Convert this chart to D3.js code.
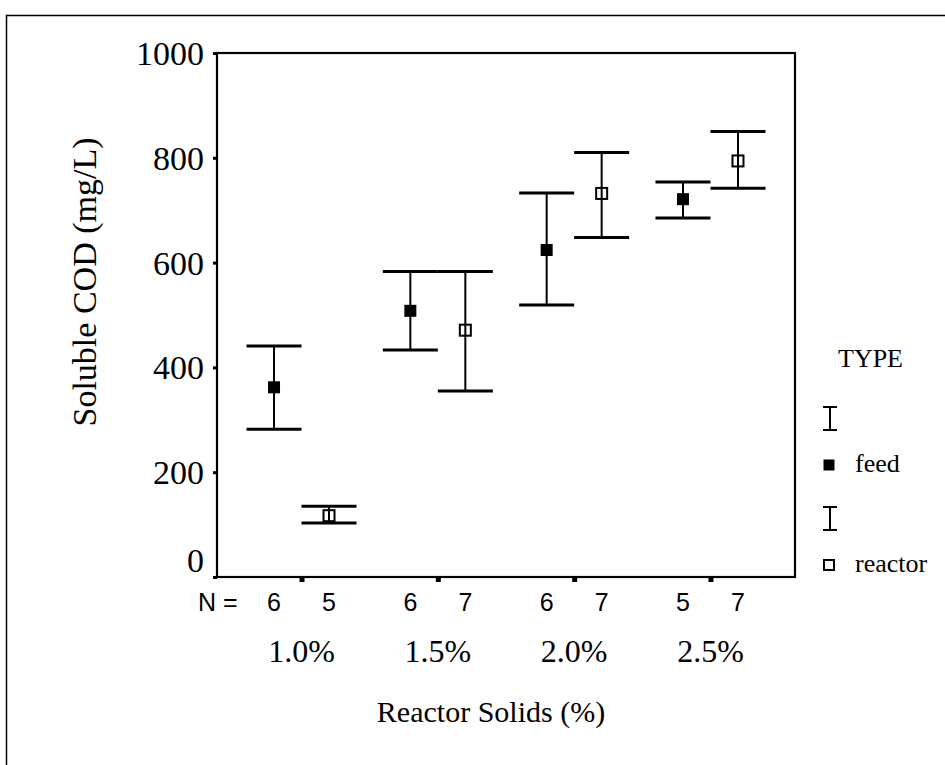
<!DOCTYPE html>
<html>
<head>
<meta charset="utf-8">
<script src="https://cdn.jsdelivr.net/npm/d3@7"></script>
<style>
  html, body { margin: 0; padding: 0; background: #fff; }
  svg { display: block; }
  .serif { font-family: "Liberation Serif", "Times New Roman", serif; fill: #000; }
  .sans { font-family: "Liberation Sans", Arial, sans-serif; fill: #000; }
</style>
</head>
<body>
<svg id="chart" width="945" height="765"></svg>
<script>
// ---- data ----
const categories = ["1.0%", "1.5%", "2.0%", "2.5%"];
const types = ["feed", "reactor"];
const feedMean = [362, 508, 624, 721];
const feedLow = [282, 433, 519, 685];
const feedHigh = [441, 583, 733, 754];
const reactorMean = [117, 471, 732, 794];
const reactorLow = [103, 355, 648, 742];
const reactorHigh = [135, 583, 810, 850];
const feedN = [6, 6, 6, 5];
const reactorN = [5, 7, 7, 7];
const yTicks = [0, 200, 400, 600, 800, 1000];

// ---- layout ----
const svg = d3.select("#chart");
const plot = { left: 217, right: 795, top: 53, bottom: 577 };

svg.append("rect").attr("width", 945).attr("height", 765).attr("fill", "#fff");
// outer frame (left + top visible)
svg.append("path").attr("d", "M6.5,770 L6.5,15.5 L950,15.5")
  .attr("fill", "none").attr("stroke", "#000").attr("stroke-width", 1.5);

const x = d3.scalePoint().domain(categories).range([plot.left, plot.right]).padding(0.62);
const xSub = d3.scalePoint().domain(types).range([-27.5, 27.5]);
const y = d3.scaleLinear().domain([0, 1000]).range([plot.bottom, plot.top]);

// plot frame
svg.append("rect")
  .attr("x", plot.left).attr("y", plot.top)
  .attr("width", plot.right - plot.left).attr("height", plot.bottom - plot.top)
  .attr("fill", "none").attr("stroke", "#000").attr("stroke-width", 2.2);

// y axis
const yAxis = d3.axisLeft(y).tickValues(yTicks).tickSize(4).tickPadding(9).tickFormat(d3.format("d"));
const gy = svg.append("g").attr("transform", `translate(${plot.left},0)`).call(yAxis);
gy.select(".domain").remove();
gy.selectAll(".tick line").attr("stroke", "#000").attr("stroke-width", 3);
gy.selectAll(".tick text")
  .attr("class", "serif")
  .style("font-size", "34px")
  .attr("dy", "0.34em")
  .attr("transform", d => d === 0 ? "translate(0,-17)" : null);

// x axis ticks (category marks below axis)
const xAxis = d3.axisBottom(x).tickSize(5).tickFormat("");
const gx = svg.append("g").attr("transform", `translate(0,${plot.bottom})`).call(xAxis);
gx.select(".domain").remove();
gx.selectAll(".tick line").attr("stroke", "#000").attr("stroke-width", 5);

// N labels
svg.append("text").attr("class", "sans").attr("x", 198).attr("y", 611)
  .style("font-size", "25px").text("N =");
const nRows = [];
categories.forEach((c, i) => {
  nRows.push({ c, t: "feed", n: feedN[i] });
  nRows.push({ c, t: "reactor", n: reactorN[i] });
});
svg.selectAll(".nlab").data(nRows).enter().append("text")
  .attr("class", "sans")
  .attr("x", d => x(d.c) + xSub(d.t))
  .attr("y", 611)
  .attr("text-anchor", "middle")
  .style("font-size", "25px")
  .text(d => d.n);

// category labels
svg.selectAll(".clab").data(categories).enter().append("text")
  .attr("class", "serif")
  .attr("x", d => x(d))
  .attr("y", 662)
  .attr("text-anchor", "middle")
  .style("font-size", "32px")
  .text(d => d);

// axis titles
svg.append("text").attr("class", "serif")
  .attr("x", 491).attr("y", 722).attr("text-anchor", "middle")
  .style("font-size", "30px").text("Reactor Solids (%)");
svg.append("text").attr("class", "serif")
  .attr("transform", "translate(96,282) rotate(-90)")
  .attr("text-anchor", "middle")
  .style("font-size", "34px").text("Soluble COD (mg/L)");

// ---- error bars ----
const rows = [];
categories.forEach((c, i) => {
  rows.push({ c, t: "feed", m: feedMean[i], lo: feedLow[i], hi: feedHigh[i] });
  rows.push({ c, t: "reactor", m: reactorMean[i], lo: reactorLow[i], hi: reactorHigh[i] });
});
const capHalf = 27.5;
const g = svg.append("g");
const bars = g.selectAll(".bar").data(rows).enter().append("g")
  .attr("transform", d => `translate(${x(d.c) + xSub(d.t)},0)`);
bars.append("line")
  .attr("x1", 0).attr("x2", 0)
  .attr("y1", d => y(d.lo)).attr("y2", d => y(d.hi))
  .attr("stroke", "#000").attr("stroke-width", 2);
bars.append("line")
  .attr("x1", -capHalf).attr("x2", capHalf)
  .attr("y1", d => y(d.hi)).attr("y2", d => y(d.hi))
  .attr("stroke", "#000").attr("stroke-width", 3);
bars.append("line")
  .attr("x1", -capHalf).attr("x2", capHalf)
  .attr("y1", d => y(d.lo)).attr("y2", d => y(d.lo))
  .attr("stroke", "#000").attr("stroke-width", 3);
const sq = 11;
bars.append("rect")
  .attr("x", d => d.t === "feed" ? -sq / 2 - 0.5 : -sq / 2)
  .attr("y", d => y(d.m) - (d.t === "feed" ? sq / 2 + 0.5 : sq / 2))
  .attr("width", d => d.t === "feed" ? sq + 1 : sq)
  .attr("height", d => d.t === "feed" ? sq + 1 : sq)
  .attr("fill", d => d.t === "feed" ? "#000" : "none")
  .attr("stroke", d => d.t === "feed" ? "none" : "#000")
  .attr("stroke-width", 2);

// ---- legend ----
const lg = svg.append("g");
lg.append("text").attr("class", "serif").attr("x", 838).attr("y", 367)
  .style("font-size", "26px").text("TYPE");
const legendItems = [
  { t: "feed", iTop: 407, iBot: 430, sqY: 465 },
  { t: "reactor", iTop: 507, iBot: 530, sqY: 565 }
];
legendItems.forEach(it => {
  lg.append("path")
    .attr("d", `M823,${it.iTop} H837 M830,${it.iTop} V${it.iBot} M823,${it.iBot} H837`)
    .attr("fill", "none").attr("stroke", "#000").attr("stroke-width", 2);
  lg.append("rect")
    .attr("x", it.t === "feed" ? 823.5 : 824).attr("y", it.sqY - (it.t === "feed" ? 5.5 : 5))
    .attr("width", it.t === "feed" ? 11 : 10).attr("height", it.t === "feed" ? 11 : 10)
    .attr("fill", it.t === "feed" ? "#000" : "none")
    .attr("stroke", it.t === "feed" ? "none" : "#000")
    .attr("stroke-width", 2);
  lg.append("text").attr("class", "serif")
    .attr("x", 855).attr("y", it.sqY + 7)
    .style("font-size", "26px").text(it.t);
});
</script>
</body>
</html>
